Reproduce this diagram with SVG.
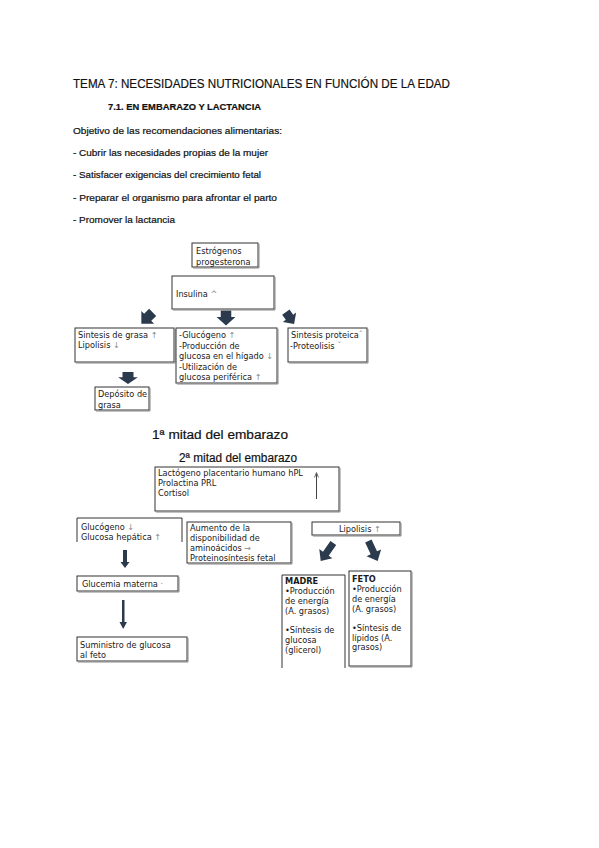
<svg xmlns="http://www.w3.org/2000/svg" width="599" height="848" viewBox="0 0 599 848">
<style>
.h{font-family:"Liberation Sans",Arial,sans-serif;fill:#111;stroke:#111;stroke-width:0.2}
.b{font-family:"DejaVu Sans",Verdana,sans-serif;font-size:8.2px;fill:#1a1a1a}
.bx{fill:#fff;stroke:#333;stroke-width:1}
.sh{fill:none;stroke:#888;stroke-width:1}
.ar{fill:#2c3a4d}
.g{fill:#888}
</style>
<defs>
<path id="ba" d="M-5,-8 L5,-8 L5,-1 L9,-1 L0,8 L-9,-1 L-5,-1 Z"/>
<path id="bl" d="M-3.5,-11 L3.5,-11 L3.5,2 L8,2 L0,11 L-8,2 L-3.5,2 Z"/>
</defs>
<rect width="599" height="848" fill="#fff"/>

<g id="heading">
<text class="h" x="73" y="88" font-size="13.5" textLength="377" lengthAdjust="spacingAndGlyphs">TEMA 7: NECESIDADES NUTRICIONALES EN FUNCIÓN DE LA EDAD</text>
<text class="h" x="108" y="110" font-size="9" font-weight="bold" textLength="153" lengthAdjust="spacingAndGlyphs">7.1. EN EMBARAZO Y LACTANCIA</text>
<text class="h" x="73" y="134" font-size="9" textLength="209" lengthAdjust="spacingAndGlyphs">Objetivo de las recomendaciones alimentarias:</text>
<text class="h" x="73" y="156" font-size="9" textLength="195" lengthAdjust="spacingAndGlyphs">- Cubrir las necesidades propias de la mujer</text>
<text class="h" x="73" y="178" font-size="9" textLength="188" lengthAdjust="spacingAndGlyphs">- Satisfacer exigencias del crecimiento fetal</text>
<text class="h" x="73" y="201" font-size="9" textLength="204" lengthAdjust="spacingAndGlyphs">- Preparar el organismo para afrontar el parto</text>
<text class="h" x="73" y="223" font-size="9" textLength="102" lengthAdjust="spacingAndGlyphs">- Promover la lactancia</text>
</g>

<g id="connectors">
<use href="#ba" class="ar" transform="translate(147,318) rotate(45)"/>
<use href="#ba" class="ar" transform="translate(226,318) scale(1.05,0.95)"/>
<use href="#ba" class="ar" transform="translate(290,318) rotate(-35) scale(0.9)"/>
<use href="#ba" class="ar" transform="translate(128,378) scale(1.1,0.75)"/>
<use href="#bl" class="ar" transform="translate(327,552) rotate(35)"/>
<use href="#bl" class="ar" transform="translate(373,551) rotate(-25)"/>
<path class="ar" d="M123,550 L127,550 L127,562 L129.5,562 L125,568 L120.5,562 L123,562 Z"/>
<path class="ar" d="M122,600 L124.5,600 L124.5,622 L127,622 L123.2,629 L119.5,622 L122,622 Z"/>
</g>

<g id="n-estrogenos">
<rect class="bx" x="192" y="243" width="66" height="24"/>
<path class="sh" d="M259,244 V268 H193"/>
<text class="b" x="196" y="254" font-size="7.6">Estrógenos</text>
<text class="b" x="196" y="265" font-size="7.6">progesterona</text>
</g>

<g id="n-insulina">
<rect class="bx" x="172" y="276" width="102" height="33"/>
<path class="sh" d="M275,277 V310 H173"/>
<text class="b" x="176" y="297">Insulina <tspan class="g">^</tspan></text>
</g>

<g id="n-sintesis-grasa">
<rect class="bx" x="75" y="328" width="99" height="34"/>
<path class="sh" d="M175,329 V363 H76"/>
<text class="b" x="78" y="338">Sintesis de grasa <tspan class="g">↑</tspan></text>
<text class="b" x="78" y="348">Lipolisis <tspan class="g">↓</tspan></text>
</g>

<g id="n-glucogeno1">
<rect class="bx" x="176" y="328" width="101" height="55"/>
<path class="sh" d="M278,329 V384 H177"/>
<text class="b" x="179" y="338">-Glucógeno <tspan class="g">↑</tspan></text>
<text class="b" x="179" y="349">-Producción de</text>
<text class="b" x="179" y="359">glucosa en el hígado <tspan class="g">↓</tspan></text>
<text class="b" x="179" y="370">-Utilización de</text>
<text class="b" x="179" y="380">glucosa periférica <tspan class="g">↑</tspan></text>
</g>

<g id="n-sintesis-proteica">
<rect class="bx" x="288" y="328" width="79" height="34"/>
<path class="sh" d="M368,329 V363 H289"/>
<text class="b" x="291" y="338">Sintesis proteica<tspan class="g">ˆ</tspan></text>
<text class="b" x="290" y="349">-Proteolisis <tspan class="g">ˇ</tspan></text>
</g>

<g id="n-deposito">
<rect class="bx" x="95" y="387" width="54" height="23"/>
<path class="sh" d="M150,388 V411 H96"/>
<text class="b" x="98" y="397">Depósito de</text>
<text class="b" x="98" y="408">grasa</text>
</g>

<g id="labels">
<text class="h" x="152" y="439" font-size="12.5" textLength="136" lengthAdjust="spacingAndGlyphs" stroke-width="0">1ª mitad del embarazo</text>
<text class="h" x="179" y="462" font-size="12" textLength="118" lengthAdjust="spacingAndGlyphs" stroke-width="0">2ª mitad del embarazo</text>
</g>

<g id="n-hpl">
<rect class="bx" x="155" y="467" width="184" height="44"/>
<path class="sh" d="M340,468 V512 H156"/>
<text class="b" x="158" y="476" font-size="7.7">Lactógeno placentario humano hPL</text>
<text class="b" x="158" y="486" font-size="7.7">Prolactina PRL</text>
<text class="b" x="158" y="496" font-size="7.7">Cortisol</text>
<line x1="316.5" y1="499" x2="316.5" y2="474" stroke="#444" stroke-width="1"/>
<path d="M314.5,477.5 L316.5,472.5 L318.5,477.5" stroke="#444" stroke-width="0.8" fill="none"/>
</g>

<g id="n-glucogeno2">
<path class="bx" d="M77,542 V518 H182 V542" fill="#fff"/>
<text class="b" x="81" y="530">Glucógeno <tspan class="g">↓</tspan></text>
<text class="b" x="81" y="540">Glucosa hepática <tspan class="g">↑</tspan></text>
</g>

<g id="n-aumento">
<rect class="bx" x="187" y="522" width="104" height="41"/>
<path class="sh" d="M292,523 V564 H188"/>
<text class="b" x="190" y="531">Aumento de la</text>
<text class="b" x="190" y="541">disponibilidad de</text>
<text class="b" x="190" y="551">aminoácidos <tspan class="g">→</tspan></text>
<text class="b" x="190" y="561">Proteinosíntesis fetal</text>
</g>

<g id="n-lipolisis">
<rect class="bx" x="312" y="522" width="88" height="13"/>
<path class="sh" d="M401,523 V536 H313"/>
<text class="b" x="339" y="532">Lipolisis <tspan class="g">↑</tspan></text>
</g>

<g id="n-glucemia">
<rect class="bx" x="77" y="576" width="101" height="15"/>
<path class="sh" d="M179,577 V592 H78"/>
<text class="b" x="82" y="587">Glucemia materna <tspan class="g">·</tspan></text>
</g>

<g id="n-suministro">
<rect class="bx" x="77" y="637" width="110" height="24"/>
<path class="sh" d="M188,638 V662 H78"/>
<text class="b" x="80" y="648">Suministro de glucosa</text>
<text class="b" x="80" y="658">al feto</text>
</g>

<g id="n-madre">
<path class="bx" d="M282,668 V575 H345 V668" fill="#fff"/>
<text class="b" x="285" y="584" font-weight="bold">MADRE</text>
<text class="b" x="285" y="594">•Producción</text>
<text class="b" x="285" y="604">de energía</text>
<text class="b" x="285" y="614">(A. grasos)</text>
<text class="b" x="285" y="633">•Síntesis de</text>
<text class="b" x="285" y="643">glucosa</text>
<text class="b" x="285" y="653">(glicerol)</text>
</g>

<g id="n-feto">
<rect class="bx" x="349" y="571" width="62" height="95"/>
<path class="sh" d="M412,572 V667 H350"/>
<text class="b" x="352" y="582" font-weight="bold">FETO</text>
<text class="b" x="352" y="592">•Producción</text>
<text class="b" x="352" y="602">de energía</text>
<text class="b" x="352" y="612">(A. grasos)</text>
<text class="b" x="352" y="631">•Síntesis de</text>
<text class="b" x="352" y="641">lípidos (A.</text>
<text class="b" x="352" y="650">grasos)</text>
</g>
</svg>
